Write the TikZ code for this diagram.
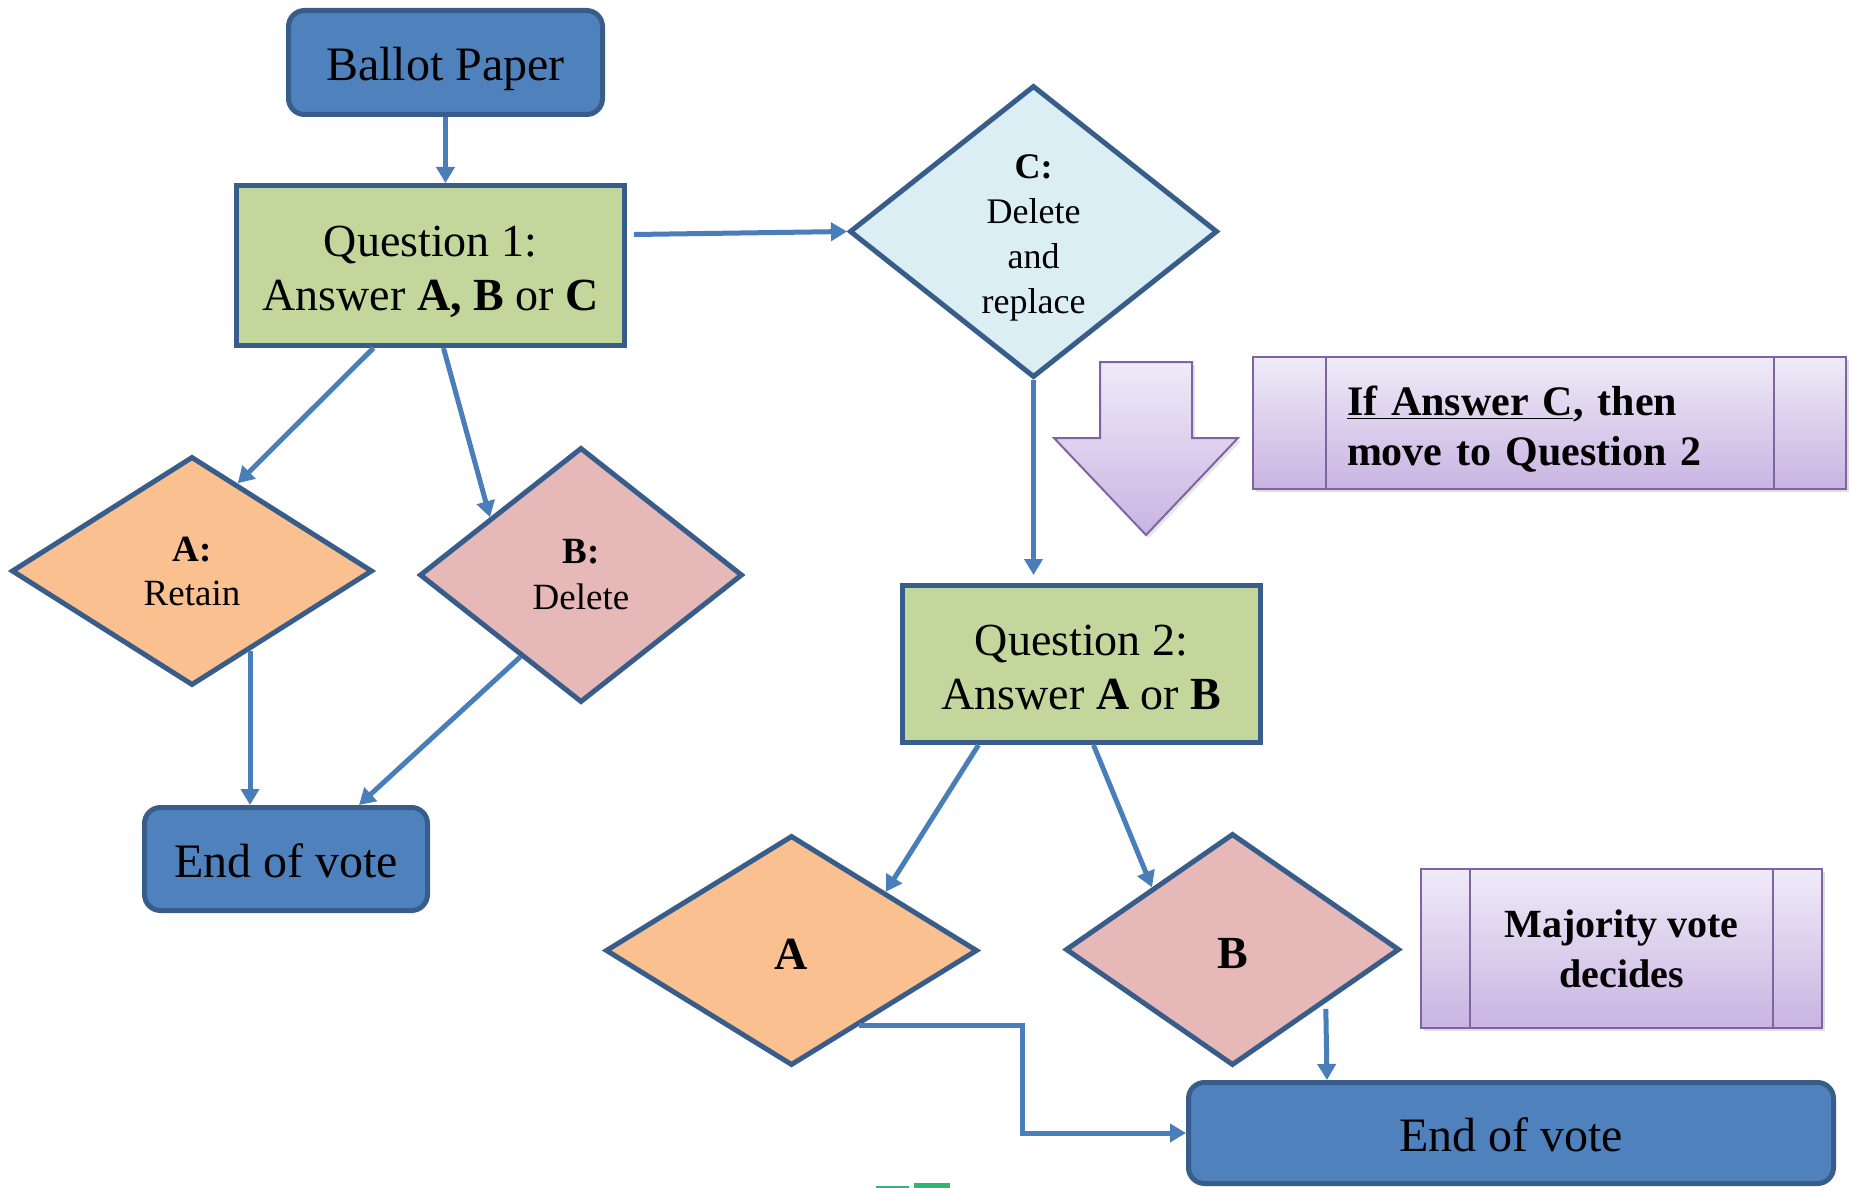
\documentclass[tikz,border=0pt]{standalone}
\usepackage{fontspec}
\setmainfont{Liberation Serif}
\usetikzlibrary{shapes.geometric,arrows.meta,calc,shadows}
\definecolor{edgeblue}{HTML}{385D8A}
\definecolor{linkblue}{HTML}{4A7EBB}
\definecolor{steel}{HTML}{4F81BD}
\definecolor{sage}{HTML}{C3D69B}
\definecolor{sky}{HTML}{DBEEF4}
\definecolor{peach}{HTML}{FAC090}
\definecolor{rose}{HTML}{E6B9B8}
\definecolor{lilactop}{HTML}{EFEBF8}
\definecolor{lilacbot}{HTML}{C8B4E2}
\definecolor{lilacedge}{HTML}{8064A2}
\definecolor{mint}{HTML}{2DB873}

\tikzset{
  endbox/.style={draw=edgeblue, fill=steel, line width=2.5pt, rounded corners=8pt,
    align=center, inner sep=0pt, text height=18.5pt, text depth=0pt,
    font=\fontsize{24}{28}\selectfont},
  question/.style={draw=edgeblue, fill=sage, line width=2.5pt, align=center,
    inner sep=0pt, font=\fontsize{23}{27}\selectfont},
  choice/.style={diamond, draw=edgeblue, line width=2.5pt, align=center, inner sep=0pt},
  note/.style={draw=lilacedge, line width=1pt, top color=lilactop, bottom color=lilacbot,
    drop shadow={opacity=.25, shadow xshift=1.5pt, shadow yshift=-1.5pt}, inner sep=0pt},
  link/.style={draw=linkblue, line width=2.5pt, -{Triangle[length=8pt,width=9pt]}},
}

\begin{document}
\begin{tikzpicture}[x=0.5pt,y=-0.5pt]
  \useasboundingbox (0,0) rectangle (1849,1188);

  \node[endbox, minimum width=157pt, minimum height=52pt] (ballot) at (445.5,62.5) {Ballot Paper};
  \node[question, minimum width=194pt, minimum height=80pt] (q1) at (430.5,265.5)
    {\rule{0pt}{22pt}Question 1:\\Answer \textbf{A, B} or \textbf{C}};
  \node[choice, fill=sky, minimum width=184pt, minimum height=146pt,
    font=\fontsize{18}{22.5}\selectfont] (c) at (1033.5,231.5)
    {\rule{0pt}{18pt}\textbf{C:}\\Delete\\and\\replace};
  \node[choice, fill=peach, minimum width=180.5pt, minimum height=114.5pt,
    font=\fontsize{18.5}{22}\selectfont] (a) at (192,571) {\textbf{A:}\\Retain};
  \node[choice, fill=rose, minimum width=161.5pt, minimum height=127.5pt,
    font=\fontsize{18.5}{23}\selectfont] (b) at (581,575) {\textbf{B:}\\Delete};
  \node[endbox, minimum width=141.5pt, minimum height=51.5pt] (end1) at (286,859) {End of vote};

  \node[question, minimum width=179pt, minimum height=78.5pt] (q2) at (1081.5,664)
    {\rule{0pt}{18.7pt}Question 2:\\Answer \textbf{A} or \textbf{B}};
  \node[choice, fill=peach, minimum width=186pt, minimum height=115pt,
    font=\fontsize{23}{27}\selectfont\bfseries] (a2) at (791.5,950.5) {\rule{0pt}{19pt}A};
  \node[choice, fill=rose, minimum width=167pt, minimum height=116pt,
    font=\fontsize{23}{27}\selectfont\bfseries] (b2) at (1232.5,949.5) {\rule{0pt}{19pt}B};
  \node[endbox, minimum width=322.5pt, minimum height=50.5pt] (end2) at (1511,1133) {End of vote};

  \node[note, minimum width=296.5pt, minimum height=66pt, text width=202.5pt, align=left,
    font=\fontsize{21}{25}\selectfont\bfseries] (note1) at (1549.5,423)
    {\rule{0pt}{21pt}\underline{If Answer C}, then\\move to Question 2};
  \draw[lilacedge, line width=1pt] ([xshift=37pt]note1.north west) -- ([xshift=37pt]note1.south west)
    ([xshift=-36.5pt]note1.north east) -- ([xshift=-36.5pt]note1.south east);
  \node[note, minimum width=200.5pt, minimum height=79.5pt, align=center,
    font=\fontsize{20}{25}\selectfont\bfseries] (note2) at (1621.5,948.5)
    {Majority vote\\decides};
  \draw[lilacedge, line width=1pt] ([xshift=25pt]note2.north west) -- ([xshift=25pt]note2.south west)
    ([xshift=-25pt]note2.north east) -- ([xshift=-25pt]note2.south east);

  \filldraw[draw=lilacedge, line width=1pt, top color=lilactop, bottom color=lilacbot,
    drop shadow={opacity=.2, shadow xshift=1.5pt, shadow yshift=-1.5pt}]
    (1100,362) -- (1192,362) -- (1192,438) -- (1238,438) -- (1146,535)
    -- (1054,438) -- (1100,438) -- cycle;

  \coordinate (aout) at ($(a.south)!.317!(a.east)$);
  \coordinate (aturn) at ($(a2.south)!.36!(a2.east)$);
  \draw[link] (ballot.south) -- (ballot.south |- q1.north);
  \draw[link] ([shift={(7,-31)}]q1.east) -- (c.west);
  \draw[link] ([shift={(-57,0)}]q1.south) -- ($(a.north)!.25!(a.east)$);
  \draw[link] ([shift={(13,0)}]q1.south) -- ($(b.west)!.445!(b.north)$);
  \draw[link] (aout) -- (aout |- end1.north);
  \draw[link] ($(b.west)!.63!(b.south)$) -- ([shift={(73,0)}]end1.north);
  \draw[link, shorten >=4pt] (c.south) -- (c.south |- q2.north);
  \draw[link] ([shift={(-103,0)}]q2.south) -- ($(a2.north)!.5!(a2.east)$);
  \draw[link] ([shift={(12,0)}]q2.south) -- ($(b2.west)!.525!(b2.north)$);
  \draw[link] (aturn) -| ($(aturn)!.5!(end2.west)$) |- (end2.west);
  \draw[link, shorten <=3pt] ($(b2.south)!.55!(b2.east)$) -- ([shift={(-184,0)}]end2.north);

  \fill[mint] (876,1186) rectangle (909,1188);
  \fill[mint] (914,1183) rectangle (950,1188);
\end{tikzpicture}
\end{document}
